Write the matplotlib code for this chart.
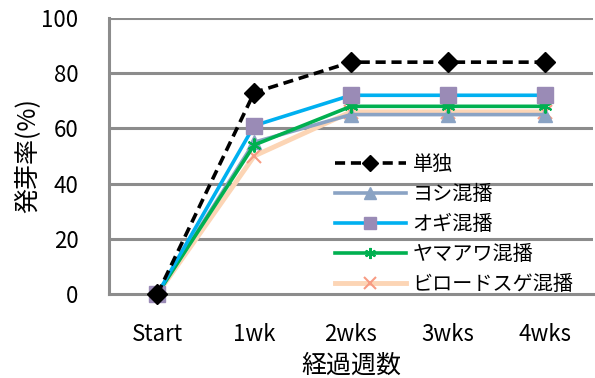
import matplotlib
matplotlib.use("Agg")
import matplotlib.pyplot as plt

plt.rcParams['font.family'] = ['Noto Sans CJK JP', 'DejaVu Sans']

categories = ["Start", "1wk", "2wks", "3wks", "4wks"]
series_names = ["単独", "ヨシ混播", "オギ混播", "ヤマアワ混播", "ビロードスゲ混播"]
tandoku = [0, 73, 84, 84, 84]
yoshi = [0, 55, 65, 65, 65]
ogi = [0, 61, 72, 72, 72]
yamaawa = [0, 54, 68, 68, 68]
birodo = [0, 50, 66, 66, 66]
y_ticks = [0, 20, 40, 60, 80, 100]

fig = plt.figure(figsize=(5.95, 3.78), dpi=100)
ax = fig.add_axes([109 / 595, 1 - 294 / 378, (593 - 109) / 595, (294 - 18) / 378])

x = list(range(len(categories)))
grid_c = "#8c8c8c"

styles = [
    dict(data=tandoku, color="black", ls=(0, (2.8, 1.6)), lw=2.6, marker="D", ms=10,
         mfc="black", mec="black", mew=1, z=6),
    dict(data=yoshi, color="#8aa3c4", ls="-", lw=2.6, marker="^", ms=10,
         mfc="#8aa3c4", mec="#8aa3c4", mew=1, z=3),
    dict(data=ogi, color="#00b0f0", ls="-", lw=2.6, marker="s", ms=11.5,
         mfc="#9a8bb6", mec="#9a8bb6", mew=1, z=5),
    dict(data=yamaawa, color="#00b050", ls="-", lw=2.6, marker=(6, 2, 0), ms=10,
         mfc="#00b050", mec="#00b050", mew=1.5, z=4),
    dict(data=birodo, color="#fcd5b5", ls="-", lw=3.5, marker="x", ms=10,
         mfc="#f79b82", mec="#f79b82", mew=1.5, z=2),
]

handles = []
for name, s in zip(series_names, styles):
    ln, = ax.plot(x, s["data"], color=s["color"], ls=s["ls"], lw=s["lw"],
                  marker=s["marker"], ms=s["ms"], mfc=s["mfc"], mec=s["mec"],
                  mew=s["mew"], zorder=s["z"], clip_on=False, label=name)
    handles.append(ln)

ax.set_xlim(-0.5, len(categories) - 0.5)
ax.set_ylim(0, 100)
ax.set_xticks(x)
ax.set_xticklabels(categories)
ax.set_yticks(y_ticks)
ax.tick_params(axis="both", length=0, labelsize=16, colors="black")
ax.tick_params(axis="x", pad=21)
ax.tick_params(axis="y", pad=22)

for yt in y_ticks[1:]:
    ax.axhline(yt, color=grid_c, lw=2.2, zorder=1)
for side in ["top", "right"]:
    ax.spines[side].set_visible(False)
for side in ["left", "bottom"]:
    ax.spines[side].set_color(grid_c)
    ax.spines[side].set_linewidth(2.2)

ax.set_xlabel("経過週数", fontsize=18, labelpad=5)
ax.set_ylabel("発芽率(%)", fontsize=18, labelpad=1)

leg = ax.legend(handles=handles, loc="upper left", bbox_to_anchor=(0.467, 0.506),
                frameon=False, fontsize=14.5, handlelength=3.5, handletextpad=0.35,
                labelspacing=0.44, borderaxespad=0, borderpad=0, markerscale=0.8)

fig.savefig("out.png", dpi=100)
